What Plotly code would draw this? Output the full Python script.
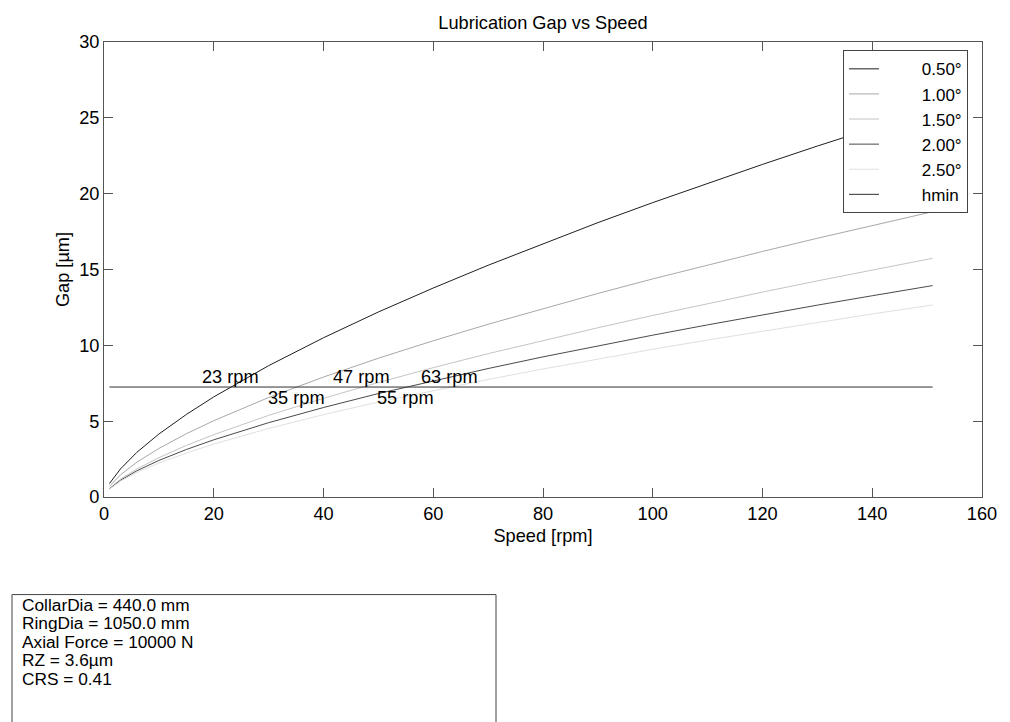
import plotly.graph_objects as go

# ---- data ----
speed = [1, 3, 6, 10, 15, 20, 30, 40, 50, 60, 70, 80, 90, 100, 110, 120, 130, 140, 151]
gap_050 = [0.89, 1.85, 2.95, 4.15, 5.44, 6.60, 8.66, 10.50, 12.20, 13.78, 15.28, 16.71, 18.09, 19.41, 20.69, 21.93, 23.14, 24.32, 25.58]
gap_100 = [0.71, 1.46, 2.30, 3.20, 4.17, 5.03, 6.56, 7.91, 9.15, 10.30, 11.39, 12.43, 13.42, 14.38, 15.30, 16.19, 17.06, 17.90, 18.81]
gap_150 = [0.56, 1.17, 1.85, 2.59, 3.40, 4.11, 5.38, 6.51, 7.55, 8.53, 9.45, 10.32, 11.16, 11.97, 12.75, 13.51, 14.25, 14.97, 15.74]
gap_200 = [0.54, 1.10, 1.73, 2.41, 3.13, 3.77, 4.90, 5.90, 6.82, 7.67, 8.47, 9.24, 9.97, 10.67, 11.35, 12.01, 12.65, 13.27, 13.94]
gap_250 = [0.52, 1.04, 1.62, 2.24, 2.90, 3.49, 4.52, 5.43, 6.26, 7.03, 7.75, 8.44, 9.10, 9.74, 10.35, 10.94, 11.51, 12.07, 12.66]
series_names = ["0.50°", "1.00°", "1.50°", "2.00°", "2.50°"]
series_values = [gap_050, gap_100, gap_150, gap_200, gap_250]
hmin_value = 7.25
hmin_speed = [1, 151]
crossing_rpm = [23, 35, 47, 55, 63]
info_lines = ["CollarDia = 440.0 mm", "RingDia = 1050.0 mm", "Axial Force = 10000 N",
              "RZ = 3.6µm", "CRS = 0.41"]
x_ticks = [0, 20, 40, 60, 80, 100, 120, 140, 160]
y_ticks = [0, 5, 10, 15, 20, 25, 30]

# ---- styling ----
FONT = "Liberation Sans, Arial, sans-serif"
FS = 18.2
FS_LEG = 17
FS_INFO = 17.3
PAD = "\u00a0" * 8
colors = ["#1e1e1e", "#a8a8a8", "#c4c4c4", "#4a4a4a", "#e0e0e0"]
axis_col = "#555555"

fig = go.Figure()
for name, vals, c in zip(series_names, series_values, colors):
    fig.add_trace(go.Scatter(x=speed, y=vals, mode="lines", name=PAD + name,
                             line=dict(color=c, width=1)))
fig.add_trace(go.Scatter(x=hmin_speed, y=[hmin_value] * len(hmin_speed), mode="lines",
                         name=PAD + "hmin", line=dict(color="#303030", width=1)))

for i, r in enumerate(crossing_rpm):
    above = (i % 2 == 0)
    fig.add_annotation(x=r, y=hmin_value, xref="x", yref="y", text=f"{r} rpm",
                       showarrow=False, xanchor="center", yanchor="middle",
                       yshift=10 if above else -11,
                       font=dict(family=FONT, size=FS, color="black"))

# info box
px_left, px_right = 104, 982
py_top, py_bot = 41.7, 497.3
pw, ph = px_right - px_left, py_bot - py_top


def xp(px):
    return (px - px_left) / pw


def yp(py):
    return (py_bot - py) / ph


fig.add_shape(type="rect", xref="paper", yref="paper",
              x0=xp(12), x1=xp(496), y0=yp(740), y1=yp(595),
              line=dict(color="#444444", width=1), fillcolor="white", layer="above")
for k, t in enumerate(info_lines):
    fig.add_annotation(x=xp(21), y=yp(605 + 18.6 * k), xref="paper", yref="paper",
                       text=t, showarrow=False, xanchor="left", yanchor="middle",
                       borderpad=0,
                       font=dict(family=FONT, size=FS_INFO, color="black"))

axis_common = dict(showline=True, linecolor=axis_col, linewidth=1, mirror="ticks",
                   ticks="inside", ticklen=9, tickcolor=axis_col, tickwidth=1,
                   showgrid=False, zeroline=False,
                   tickfont=dict(family=FONT, size=FS, color="black"))

fig.update_layout(
    width=1010, height=722,
    margin=dict(l=104, r=28, t=42, b=225),
    paper_bgcolor="white", plot_bgcolor="white",
    font=dict(family=FONT, size=FS, color="black"),
    title=dict(text="Lubrication Gap vs Speed", x=xp(543), xref="paper",
               y=1 - 23 / 722, yref="container", xanchor="center", yanchor="middle",
               font=dict(family=FONT, size=FS, color="black")),
    xaxis=dict(range=[0, 160], tickvals=x_ticks,
               title=dict(text="Speed [rpm]", standoff=6,
                          font=dict(family=FONT, size=FS, color="black")),
               **axis_common),
    yaxis=dict(range=[0, 30], tickvals=y_ticks,
               title=dict(text="Gap [µm]", standoff=4,
                          font=dict(family=FONT, size=FS, color="black")),
               **axis_common),
    legend=dict(x=xp(968), y=yp(50), xanchor="right", yanchor="top",
                bgcolor="white", bordercolor="#444444", borderwidth=1,
                font=dict(family=FONT, size=FS_LEG, color="black"),
                tracegroupgap=0, itemwidth=30),
    showlegend=True,
)

fig.write_html("out.html")
